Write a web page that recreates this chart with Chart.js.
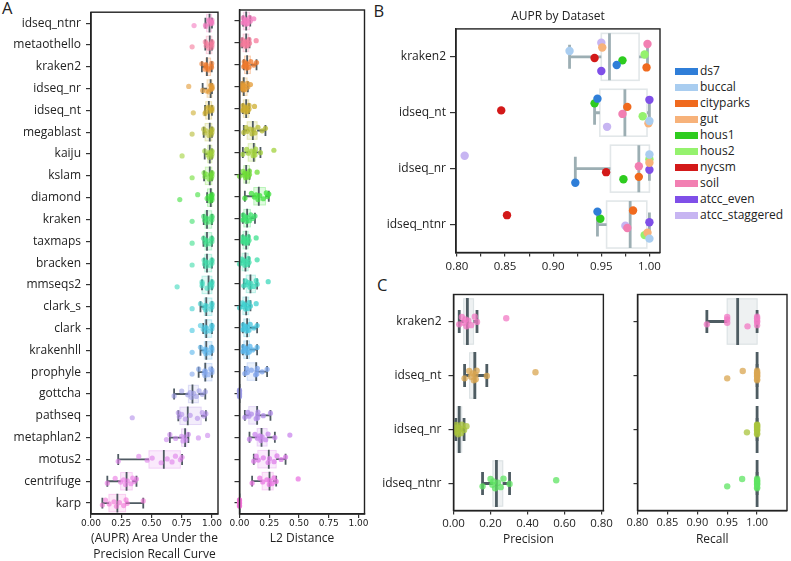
<!DOCTYPE html>
<html><head><meta charset="utf-8">
<script src="https://cdn.jsdelivr.net/npm/chart.js@4.4.1/dist/chart.umd.min.js"></script>
<style>
html,body{margin:0;padding:0;width:791px;height:561px;overflow:hidden;background:#fff;}
canvas{position:absolute;}
.t{position:absolute;font-family:'Open Sans',sans-serif;color:#222;line-height:1;white-space:nowrap;}
.lg{position:absolute;left:675px;font-family:'Open Sans',sans-serif;font-size:12px;color:#222;}
.lg div{position:absolute;left:0;height:16px;white-space:nowrap;}
.lg span.sw{position:absolute;left:0;top:5px;width:23px;height:7px;}
.lg span.tx{position:absolute;left:25px;top:0;line-height:16px;}
</style></head><body>
<div class="t" style="left:2px;top:0px;font-size:16.5px">A</div>
<div class="t" style="left:373.5px;top:2.5px;font-size:16.5px">B</div>
<div class="t" style="left:377px;top:277px;font-size:16.5px">C</div>
<canvas id="cA1" width="226" height="563" style="left:0;top:0;width:226px;height:563px"></canvas>
<canvas id="cA2" width="148" height="563" style="left:224px;top:0;width:148px;height:563px"></canvas>
<canvas id="cB" width="296" height="285" style="left:372px;top:0;width:296px;height:285px"></canvas>
<canvas id="cC1" width="243" height="281" style="left:372px;top:280px;width:243px;height:281px"></canvas>
<canvas id="cC2" width="179" height="281" style="left:612px;top:280px;width:179px;height:281px"></canvas>
<div class="lg" id="legend" style="top:62.6px"></div>
<script>
// ---------------- DATA ----------------
const METHODS = ['idseq_ntnr','metaothello','kraken2','idseq_nr','idseq_nt','megablast','kaiju','kslam','diamond','kraken','taxmaps','bracken','mmseqs2','clark_s','clark','krakenhll','prophyle','gottcha','pathseq','metaphlan2','motus2','centrifuge','karp'];
const METHOD_COLORS = ['#f47bbf','#f5799b','#f07a2c','#e39a33','#cdae2f','#b5bb33','#a2d23c','#6fdd35','#3fe03c','#3fe06c','#3ee08c','#3fdcaa','#3ed8bc','#3fd0cf','#44c6df','#5ab6ec','#82a6ec','#9c9be6','#b28ee9','#c985ec','#dd7dea','#ea76e2','#f272d6'];

// Panel A: AUPR (one row of dataset values per method)
const auprPoints = [
  [0.946,1.0,0.983,0.998,0.949,0.995,0.852,0.977,1.0,0.975],
  [0.836,0.945,0.952,0.955,0.975,0.99,0.998,1.0,1.0,1.0],
  [0.966,0.917,0.997,0.951,0.972,0.995,0.943,0.998,0.950,0.950],
  [0.923,1.0,0.989,1.0,0.973,1.0,0.955,0.989,1.0,0.808],
  [0.946,1.0,0.977,0.999,0.943,0.993,0.846,0.972,1.0,0.956],
  [0.836,0.932,0.94,0.952,0.975,0.988,0.995,1.0,1.0,1.0],
  [0.753,0.94,0.962,0.975,0.978,0.986,0.997,1.0,1.0,1.0],
  [0.836,0.935,0.942,0.955,0.976,0.988,0.996,1.0,1.0,1.0],
  [0.734,0.882,0.96,0.972,0.985,0.995,1.0,1.0,1.0,1.0],
  [0.836,0.932,0.94,0.952,0.955,0.963,0.99,1.0,1.0,1.0],
  [0.836,0.93,0.942,0.948,0.952,0.966,0.985,0.998,1.0,1.0],
  [0.836,0.935,0.938,0.95,0.954,0.964,0.988,1.0,1.0,1.0],
  [0.712,0.918,0.918,0.92,0.96,0.985,0.995,1.0,1.0,1.0],
  [0.836,0.905,0.935,0.944,0.948,0.958,0.99,1.0,1.0,1.0],
  [0.836,0.905,0.928,0.944,0.95,0.956,0.985,1.0,1.0,1.0],
  [0.836,0.905,0.935,0.942,0.949,0.957,0.98,0.995,1.0,1.0],
  [0.836,0.89,0.935,0.94,0.942,0.948,0.97,0.99,1.0,1.0],
  [0.687,0.75,0.8,0.82,0.83,0.848,0.87,0.894,0.92,0.945],
  [0.341,0.722,0.73,0.75,0.78,0.82,0.88,0.92,0.935,0.95],
  [0.624,0.652,0.7,0.749,0.76,0.775,0.785,0.805,0.888,0.964],
  [0.225,0.395,0.464,0.506,0.58,0.63,0.67,0.698,0.739,0.753],
  [0.135,0.2,0.245,0.27,0.285,0.3,0.33,0.345,0.36,0.376],
  [0.094,0.12,0.15,0.19,0.21,0.235,0.27,0.29,0.3,0.432]
];
const auprLo  = [0.946,0.945,0.917,0.923,0.943,0.932,0.94,0.935,0.96,0.932,0.93,0.935,0.918,0.905,0.928,0.905,0.89,0.687,0.722,0.652,0.225,0.135,0.094];
const auprQ1  = [0.9555,0.953,0.950,0.9595,0.9485,0.943,0.965,0.945,0.963,0.943,0.943,0.941,0.918,0.937,0.94,0.937,0.937,0.805,0.735,0.749,0.479,0.245,0.148];
const auprMed = [0.980,0.982,0.9585,0.989,0.9745,0.982,0.982,0.982,0.99,0.959,0.959,0.959,0.972,0.953,0.953,0.953,0.945,0.839,0.8,0.778,0.602,0.294,0.218];
const auprQ3  = [0.997,1.0,0.989,1.0,0.9975,0.999,0.999,0.999,1.0,0.998,0.998,0.998,1.0,1.0,0.998,1.0,1.0,0.888,0.911,0.792,0.739,0.341,0.286];
const auprHi  = [1.0,1.0,0.998,1.0,1.0,1.0,1.0,1.0,1.0,1.0,1.0,1.0,1.0,1.0,1.0,1.0,1.0,0.945,0.95,0.805,0.753,0.376,0.432];

// Panel A: L2 distance
const l2Points = [
  [0.03,0.032,0.04,0.05,0.054,0.058,0.07,0.085,0.09,0.12],
  [0.022,0.025,0.035,0.045,0.052,0.06,0.07,0.08,0.084,0.14],
  [0.036,0.04,0.042,0.055,0.062,0.066,0.08,0.095,0.12,0.143],
  [0.022,0.024,0.026,0.03,0.034,0.038,0.05,0.065,0.07,0.092],
  [0.028,0.03,0.032,0.045,0.054,0.058,0.07,0.08,0.08,0.126],
  [0.036,0.055,0.066,0.09,0.105,0.118,0.13,0.155,0.19,0.218],
  [0.028,0.06,0.075,0.1,0.115,0.125,0.13,0.136,0.176,0.289],
  [0.0,0.03,0.038,0.045,0.052,0.06,0.075,0.084,0.084,0.148],
  [0.045,0.1,0.125,0.14,0.155,0.17,0.2,0.225,0.235,0.246],
  [0.028,0.032,0.038,0.05,0.06,0.068,0.085,0.095,0.11,0.13],
  [0.028,0.028,0.03,0.04,0.052,0.06,0.07,0.075,0.08,0.14],
  [0.0,0.02,0.024,0.035,0.045,0.055,0.07,0.075,0.08,0.148],
  [0.036,0.05,0.058,0.075,0.088,0.096,0.12,0.14,0.148,0.241],
  [0.0,0.025,0.03,0.04,0.052,0.06,0.075,0.08,0.092,0.14],
  [0.028,0.032,0.038,0.05,0.06,0.068,0.08,0.09,0.12,0.148],
  [0.028,0.034,0.037,0.052,0.062,0.066,0.082,0.088,0.11,0.148],
  [0.045,0.06,0.066,0.1,0.135,0.145,0.146,0.15,0.19,0.232],
  [0,0,0,0,0,0,0,0,0,0],
  [0.045,0.07,0.08,0.1,0.14,0.152,0.153,0.155,0.2,0.26],
  [0.084,0.13,0.15,0.17,0.18,0.19,0.22,0.24,0.297,0.423],
  [0.12,0.14,0.158,0.2,0.24,0.252,0.29,0.315,0.35,0.387],
  [0.106,0.17,0.195,0.23,0.25,0.255,0.275,0.29,0.308,0.493],
  [0,0,0,0,0,0,0,0,0,0]
];
const l2Lo  = [0.03,0.022,0.036,0.022,0.028,0.036,0.028,0.0,0.045,0.028,0.028,0.0,0.036,0.0,0.028,0.028,0.045,0,0.045,0.084,0.12,0.106,0];
const l2Q1  = [0.032,0.03,0.042,0.025,0.032,0.064,0.073,0.036,0.12,0.036,0.03,0.022,0.056,0.028,0.036,0.036,0.064,0,0.078,0.148,0.154,0.19,0];
const l2Med = [0.056,0.056,0.064,0.036,0.056,0.112,0.12,0.056,0.162,0.064,0.056,0.05,0.092,0.056,0.064,0.064,0.14,0,0.148,0.185,0.246,0.252,0];
const l2Q3  = [0.084,0.078,0.092,0.064,0.078,0.148,0.134,0.084,0.218,0.092,0.073,0.073,0.134,0.078,0.084,0.084,0.148,0,0.154,0.232,0.308,0.283,0];
const l2Hi  = [0.09,0.084,0.143,0.07,0.08,0.218,0.176,0.084,0.246,0.13,0.08,0.08,0.148,0.092,0.148,0.148,0.232,0,0.26,0.297,0.387,0.308,0];
const A_X_TICKS = [0, 0.25, 0.5, 0.75, 1.0];

// Panel B: AUPR by dataset (values for kraken2, idseq_nt, idseq_nr, idseq_ntnr)
const B_METHODS = ['kraken2','idseq_nt','idseq_nr','idseq_ntnr'];
const DATASET_NAMES = ['ds7','buccal','cityparks','gut','hous1','hous2','nycsm','soil','atcc_even','atcc_staggered'];
const DATASET_COLORS = ['#2f7ed8','#a9cdf0','#f06a1e','#f7b27a','#2ecc1f','#95f26e','#d31919','#f27fb2','#7f4fe8','#c7b5f2'];
const ds7            = [0.966, 0.946, 0.923, 0.946];
const buccal         = [0.917, 1.000, 1.000, 1.000];
const cityparks      = [0.997, 0.977, 0.989, 0.983];
const gut            = [0.951, 0.999, 1.000, 0.998];
const hous1          = [0.972, 0.943, 0.973, 0.949];
const hous2          = [0.995, 0.993, 1.000, 0.995];
const nycsm          = [0.943, 0.846, 0.955, 0.852];
const soil           = [0.998, 0.972, 0.989, 0.977];
const atcc_even      = [0.950, 1.000, 1.000, 1.000];
const atcc_staggered = [0.950, 0.956, 0.808, 0.975];
const B_X_TICKS = [0.8, 0.825, 0.85, 0.875, 0.9, 0.925, 0.95, 0.975, 1.0];

// Panel C: precision and recall
const C_METHODS = ['kraken2','idseq_nt','idseq_nr','idseq_ntnr'];
const C_COLORS = ['#f27ac4','#d9a550','#a9c43c','#5ee462'];
const precPoints = [
  [0.031,0.045,0.055,0.065,0.07,0.08,0.095,0.115,0.127,0.285],
  [0.06,0.085,0.095,0.105,0.11,0.118,0.12,0.125,0.18,0.443],
  [0.012,0.015,0.018,0.02,0.025,0.035,0.04,0.045,0.057,0.07],
  [0.157,0.2,0.21,0.215,0.225,0.24,0.255,0.27,0.303,0.555]
];
const precLo  = [0.031,0.06,0.013,0.157];
const precQ1  = [0.055,0.087,0.02,0.213];
const precMed = [0.075,0.115,0.031,0.232];
const precQ3  = [0.108,0.122,0.044,0.266];
const precHi  = [0.127,0.18,0.057,0.303];
const recPoints = [
  [0.916,0.95,0.95,0.95,0.984,1,1,1,1,1],
  [0.95,0.976,1,1,1,1,1,1,1,1],
  [0.983,1,1,1,1,1,1,1,1,1],
  [0.95,0.975,1,1,1,1,1,1,1,1]
];
const recLo  = [0.916,1,1,1];
const recQ1  = [0.95,1,1,1];
const recMed = [0.9675,1,1,1];
const recQ3  = [1,1,1,1];
const recHi  = [1,1,1,1];
const C_PREC_TICKS = [0, 0.2, 0.4, 0.6, 0.8];
const C_REC_TICKS = [0.8, 0.85, 0.9, 0.95, 1.0];

// ---------------- RENDERING ----------------
const JITTER = [0.35,-0.55,0.15,-0.25,0.6,-0.1,0.45,-0.6,0.05,-0.4];
Chart.defaults.font.family = "'Open Sans', sans-serif";
Chart.defaults.color = '#222';

function rgba(hex, a) {
  const n = parseInt(hex.slice(1), 16);
  return 'rgba(' + ((n >> 16) & 255) + ',' + ((n >> 8) & 255) + ',' + (n & 255) + ',' + a + ')';
}
function quantile(sorted, p) {
  const pos = (sorted.length - 1) * p, lo = Math.floor(pos), f = pos - lo;
  return lo + 1 < sorted.length ? sorted[lo] + f * (sorted[lo + 1] - sorted[lo]) : sorted[lo];
}
function boxStats(rows) {
  const s = {lo: [], q1: [], med: [], q3: [], hi: []};
  rows.forEach(r => {
    const v = r.slice().sort((a, b) => a - b);
    const q1 = quantile(v, 0.25), q3 = quantile(v, 0.75), iqr = q3 - q1;
    s.q1.push(q1); s.q3.push(q3); s.med.push(quantile(v, 0.5));
    s.lo.push(Math.min(...v.filter(x => x >= q1 - 1.5 * iqr)));
    s.hi.push(Math.max(...v.filter(x => x <= q3 + 1.5 * iqr)));
  });
  return s;
}
function framePlugin() {
  return {id: 'frame', afterDraw(chart) {
    const {ctx, chartArea: c} = chart;
    ctx.save(); ctx.strokeStyle = '#222'; ctx.lineWidth = 1.4;
    ctx.strokeRect(c.left, c.top, c.right - c.left, c.bottom - c.top);
    ctx.restore();
  }};
}
function boxPlugin(stats, st) {
  return {id: 'boxes', beforeDatasetsDraw(chart) {
    const {ctx, chartArea: c} = chart;
    const xs = chart.scales.x, ys = chart.scales.y;
    const band = Math.abs(ys.getPixelForValue(1) - ys.getPixelForValue(0));
    const X = v => xs.getPixelForValue(v);
    ctx.save();
    ctx.beginPath(); ctx.rect(c.left, c.top, c.right - c.left, c.bottom - c.top); ctx.clip();
    stats.med.forEach((m, i) => {
      const yc = ys.getPixelForValue(i);
      const bh = band * st.boxFrac, ch = band * st.capFrac, mh = band * st.medFrac;
      const x1 = X(stats.q1[i]), x3 = X(stats.q3[i]), xl = X(stats.lo[i]), xh = X(stats.hi[i]);
      ctx.fillStyle = st.fill[i % st.fill.length];
      ctx.fillRect(x1, yc - bh / 2, x3 - x1, bh);
      ctx.strokeStyle = st.edge[i % st.edge.length]; ctx.lineWidth = st.edgeWidth;
      ctx.strokeRect(x1, yc - bh / 2, x3 - x1, bh);
      ctx.strokeStyle = st.line; ctx.lineWidth = st.lineWidth;
      ctx.beginPath();
      ctx.moveTo(xl, yc); ctx.lineTo(x1, yc);
      ctx.moveTo(x3, yc); ctx.lineTo(xh, yc);
      ctx.moveTo(xl, yc - ch / 2); ctx.lineTo(xl, yc + ch / 2);
      ctx.moveTo(xh, yc - ch / 2); ctx.lineTo(xh, yc + ch / 2);
      ctx.stroke();
      ctx.beginPath(); ctx.moveTo(X(m), yc - mh / 2); ctx.lineTo(X(m), yc + mh / 2); ctx.stroke();
    });
    ctx.restore();
  }};
}
function panel(o) {
  const n = o.labels.length;
  return new Chart(document.getElementById(o.id), {
    type: 'scatter',
    data: {datasets: o.datasets},
    options: {
      responsive: false, animation: false, events: [],
      layout: {padding: o.padding},
      plugins: {
        legend: {display: false}, tooltip: {enabled: false},
        title: o.title ? {display: true, text: o.title, fullSize: false, color: '#222',
          font: {size: 12, weight: 'normal'}, padding: {top: 8.5, bottom: 5}} : {display: false}
      },
      scales: {
        x: {
          type: 'linear', min: o.xmin, max: o.xmax,
          afterBuildTicks: s => { s.ticks = o.xticks.map(v => ({value: v})); },
          afterFit: s => { s.height = o.xh; },
          ticks: {callback: o.xfmt, font: o.xfont, color: '#222', padding: o.xpad, maxRotation: 0, autoSkip: false},
          grid: {display: true, drawOnChartArea: false, drawTicks: true, tickLength: 4, color: '#333', lineWidth: 1.2},
          border: {display: true, color: '#222', width: 1.4},
          title: {display: true, text: o.xtitle, color: '#222', font: {size: 12, lineHeight: o.tlh || 1.2},
            padding: {top: 0, bottom: o.tpb}}
        },
        y: {
          type: 'linear', reverse: true, min: -0.5, max: n - 0.5,
          afterBuildTicks: s => { s.ticks = o.labels.map((_, i) => ({value: i})); },
          afterFit: s => { s.width = o.yw; },
          ticks: {display: o.showY, callback: v => o.labels[v], font: {size: 12}, color: '#222',
            padding: o.ypad, autoSkip: false},
          grid: {display: true, drawOnChartArea: false, drawTicks: true, tickLength: o.ytl, color: '#333', lineWidth: 1.2},
          border: {display: true, color: '#222', width: 1.4}
        }
      }
    },
    plugins: [boxPlugin(o.stats, o.style), framePlugin()]
  });
}
function rowDatasets(points, colors, alpha, radius, amp, clip) {
  return points.map((row, i) => ({
    data: row.map((v, j) => ({x: v, y: i + JITTER[j % JITTER.length] * amp})),
    pointRadius: radius, pointBorderWidth: 0, clip: clip,
    pointBackgroundColor: rgba(colors[i % colors.length], alpha), showLine: false
  }));
}
const fmt2 = v => v.toFixed(2);
const styleA = {boxFrac: 0.8, capFrac: 0.5, medFrac: 0.86,
  fill: METHOD_COLORS.map(c => rgba(c, 0.16)), edge: METHOD_COLORS.map(c => rgba(c, 0.3)),
  edgeWidth: 1, line: '#4f5b62', lineWidth: 1.8};
const styleB = {boxFrac: 0.84, capFrac: 0.43, medFrac: 0.84,
  fill: ['rgba(255,255,255,0.85)'], edge: ['#e2e7e9'], edgeWidth: 1.6, line: '#9caeb3', lineWidth: 2.8};
const styleC = {boxFrac: 0.84, capFrac: 0.43, medFrac: 0.87,
  fill: ['rgba(236,240,241,0.9)'], edge: ['#dde3e5'], edgeWidth: 1.2, line: '#4e5c62', lineWidth: 2.8};

// A left: AUPR
panel({id: 'cA1', labels: METHODS, showY: true, yw: 91, ytl: 5, ypad: 5,
  xmin: 0, xmax: 1.05, xticks: A_X_TICKS, xfmt: fmt2, xfont: {family: 'DejaVu Sans', size: 9}, xpad: 0, xh: 49,
  xtitle: ['(AUPR) Area Under the', 'Precision Recall Curve'], tlh: 1.33, tpb: 0,
  padding: {top: 10, right: 8, left: 0, bottom: 0},
  stats: {lo: auprLo, q1: auprQ1, med: auprMed, q3: auprQ3, hi: auprHi}, style: styleA,
  datasets: rowDatasets(auprPoints, METHOD_COLORS, 0.6, 2.6, 0.25)});
// A right: L2
panel({id: 'cA2', labels: METHODS, showY: false, yw: 15.5, ytl: 5, ypad: 5,
  xmin: 0, xmax: 1.05, xticks: A_X_TICKS, xfmt: fmt2, xfont: {family: 'DejaVu Sans', size: 9}, xpad: 0, xh: 49,
  xtitle: 'L2 Distance', tlh: 1.33, tpb: 16,
  padding: {top: 10, right: 7.5, left: 0, bottom: 0},
  stats: {lo: l2Lo, q1: l2Q1, med: l2Med, q3: l2Q3, hi: l2Hi}, style: styleA,
  datasets: rowDatasets(l2Points, METHOD_COLORS, 0.75, 2.6, 0.25, false)});
// B
const B_VALUES = [ds7, buccal, cityparks, gut, hous1, hous2, nycsm, soil, atcc_even, atcc_staggered];
const B_ROWS = B_METHODS.map((_, m) => B_VALUES.map(arr => arr[m]));
panel({id: 'cB', labels: B_METHODS, showY: true, yw: 84, ytl: 6, ypad: 4,
  xmin: 0.799, xmax: 1.011, xticks: B_X_TICKS,
  xfmt: v => (Math.abs(v * 20 - Math.round(v * 20)) < 1e-6 ? v.toFixed(2) : ''),
  xfont: {size: 11.5}, xpad: 3.5, xh: 32.5, xtitle: '', tpb: 0,
  title: 'AUPR by Dataset',
  padding: {top: 1, right: 8, left: 0, bottom: 0},
  stats: boxStats(B_ROWS), style: styleB,
  datasets: B_VALUES.map((arr, d) => ({
    label: DATASET_NAMES[d],
    data: arr.map((v, m) => ({x: v, y: m + JITTER[(d * 3 + m * 7) % JITTER.length] * 0.42})),
    pointRadius: 4.2, pointBorderWidth: 0, pointBackgroundColor: DATASET_COLORS[d], showLine: false
  }))});
// C left: precision
panel({id: 'cC1', labels: C_METHODS, showY: true, yw: 81.5, ytl: 5, ypad: 7,
  xmin: 0, xmax: 0.81, xticks: C_PREC_TICKS, xfmt: fmt2, xfont: {size: 11.5}, xpad: 2, xh: 50.5,
  xtitle: 'Precision', tpb: 14.5,
  padding: {top: 14.5, right: 7.7, left: 0, bottom: 0},
  stats: {lo: precLo, q1: precQ1, med: precMed, q3: precQ3, hi: precHi}, style: styleC,
  datasets: rowDatasets(precPoints, C_COLORS, 0.75, 3.2, 0.15)});
// C right: recall
panel({id: 'cC2', labels: C_METHODS, showY: false, yw: 25.5, ytl: 4, ypad: 5,
  xmin: 0.8, xmax: 1.05, xticks: C_REC_TICKS, xfmt: fmt2, xfont: {size: 11}, xpad: 2, xh: 50.5,
  xtitle: 'Recall', tpb: 14.5,
  padding: {top: 14.5, right: 1.5, left: 0, bottom: 0},
  stats: {lo: recLo, q1: recQ1, med: recMed, q3: recQ3, hi: recHi}, style: styleC,
  datasets: rowDatasets(recPoints, C_COLORS, 0.75, 3.2, 0.15)});

// legend for panel B
const lg = document.getElementById('legend');
DATASET_NAMES.forEach((name, i) => {
  const d = document.createElement('div');
  d.style.top = (i * 16) + 'px';
  d.innerHTML = '<span class="sw" style="background:' + DATASET_COLORS[i] + '"></span><span class="tx">' + name + '</span>';
  lg.appendChild(d);
});
</script>
</body></html>
